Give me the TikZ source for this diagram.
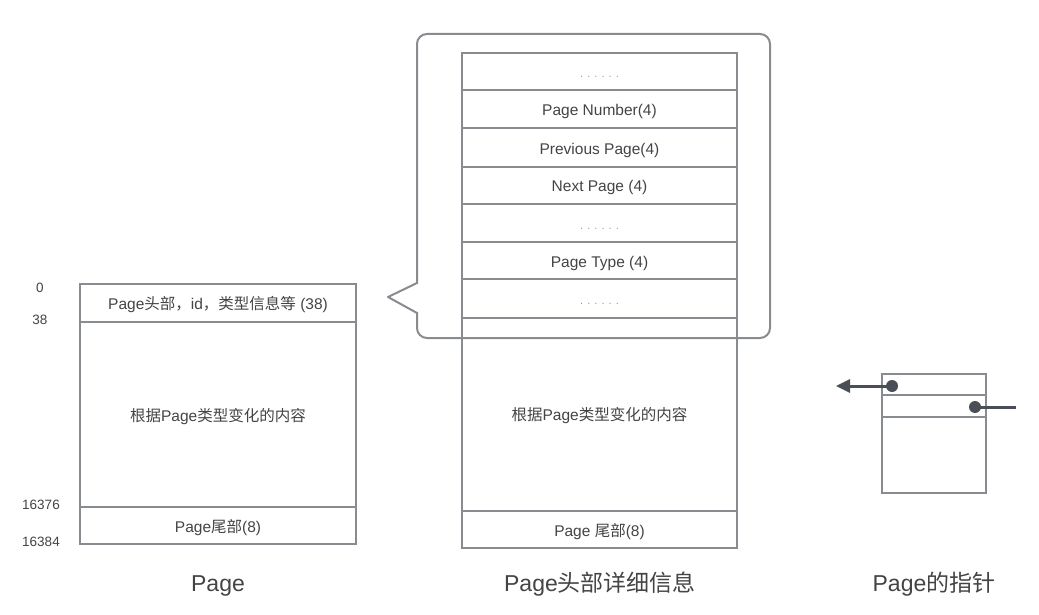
\documentclass[tikz,border=0pt]{standalone}
\usepackage{fontspec}
\setmainfont{Liberation Sans}
\newfontfamily\cjk{Noto Sans CJK SC}
\usetikzlibrary{arrows.meta}
\definecolor{boxgray}{HTML}{888B8F}
\definecolor{txtgray}{HTML}{444444}
\definecolor{dotgray}{HTML}{999999}
\definecolor{darkptr}{HTML}{4A4F57}
\begin{document}
\begin{tikzpicture}[x=1pt,y=-1pt,
  cell/.style={draw=boxgray, line width=2pt, inner sep=0pt, outer sep=0pt, text=txtgray,
    font=\fontsize{15.5}{18}\selectfont, text height=13pt, text depth=0pt},
  lcell/.style={cell, minimum width=276pt},
  mcell/.style={cell, minimum width=275pt},
  rcell/.style={cell, minimum width=104pt},
  offs/.style={text=txtgray, font=\fontsize{13.5}{16}\selectfont},
  title/.style={text=txtgray, font=\fontsize{23}{27}\selectfont, text height=19pt, text depth=0pt},
  dotsrow/.style={text=dotgray, font=\fontsize{11}{13}\selectfont},
  callout/.style={draw=boxgray, line width=2pt}]
\useasboundingbox (0,0) rectangle (1039,615);
\fill[white] (0,0) rectangle (1039,615);

% left page
\node[lcell, minimum height=38pt] (lh) at (218,303) {Page{\cjk 头部，}id{\cjk ，类型信息等} (38)};
\node[lcell, minimum height=185pt] (lc) at (218,414.5) {{\cjk 根据}Page{\cjk 类型变化的内容}};
\node[lcell, minimum height=37pt] (lf) at (218,525.5) {Page{\cjk 尾部}(8)};
\node[offs] (o0) at (40,288) {0};
\node[offs] (o38) at (40,320) {38};
\node[offs] (o16376) at (41,505) {16376};
\node[offs] (o16384) at (41,542) {16384};
\node[title] (t1) at (218,582) {Page};

% callout
\draw[callout, rounded corners=10pt] (417,34) rectangle (770,338);
\fill[white] (415.5,284) rectangle (418.5,312);
\draw[callout, line join=round] (417,283) -- (388,297) -- (417,313);

% middle page
\node[mcell, minimum height=37pt, dotsrow] (m1) at (599.5,71.5) {. . . . . .};
\node[mcell, minimum height=38.5pt] (m2) at (599.5,109.25) {Page Number(4)};
\node[mcell, minimum height=38.5pt] (m3) at (599.5,147.75) {Previous Page(4)};
\node[mcell, minimum height=37pt] (m4) at (599.5,185.5) {Next Page (4)};
\node[mcell, minimum height=38pt, dotsrow] (m5) at (599.5,223) {. . . . . .};
\node[mcell, minimum height=37pt] (m6) at (599.5,260.5) {Page Type (4)};
\node[mcell, minimum height=38.5pt, dotsrow] (m7) at (599.5,298.25) {. . . . . .};
\node[mcell, minimum height=193.5pt] (mc) at (599.5,414.25) {{\cjk 根据}Page{\cjk 类型变化的内容}};
\node[mcell, minimum height=37pt] (mf) at (599.5,529.5) {Page {\cjk 尾部}(8)};
\node[title] (t2) at (600,582) {Page{\cjk 头部详细信息}};

% pointer page
\node[rcell, minimum height=21pt] (r1) at (934,384.5) {};
\node[rcell, minimum height=22pt] (r2) at (934,406) {};
\node[rcell, minimum height=76pt] (r3) at (934,455) {};
\coordinate (d1) at (892,386);
\coordinate (d2) at (975,407);
\coordinate (aend) at (836,386);
\coordinate (lend) at (1016,407);
\draw[darkptr, line width=3pt, -{Triangle[length=14pt,width=13pt]}] (d1) -- (aend);
\draw[darkptr, line width=3pt] (d2) -- (lend);
\fill[darkptr] (d1) circle (6pt);
\fill[darkptr] (d2) circle (6pt);
\node[title] (t3) at (934,582) {Page{\cjk 的指针}};
\end{tikzpicture}
\end{document}
